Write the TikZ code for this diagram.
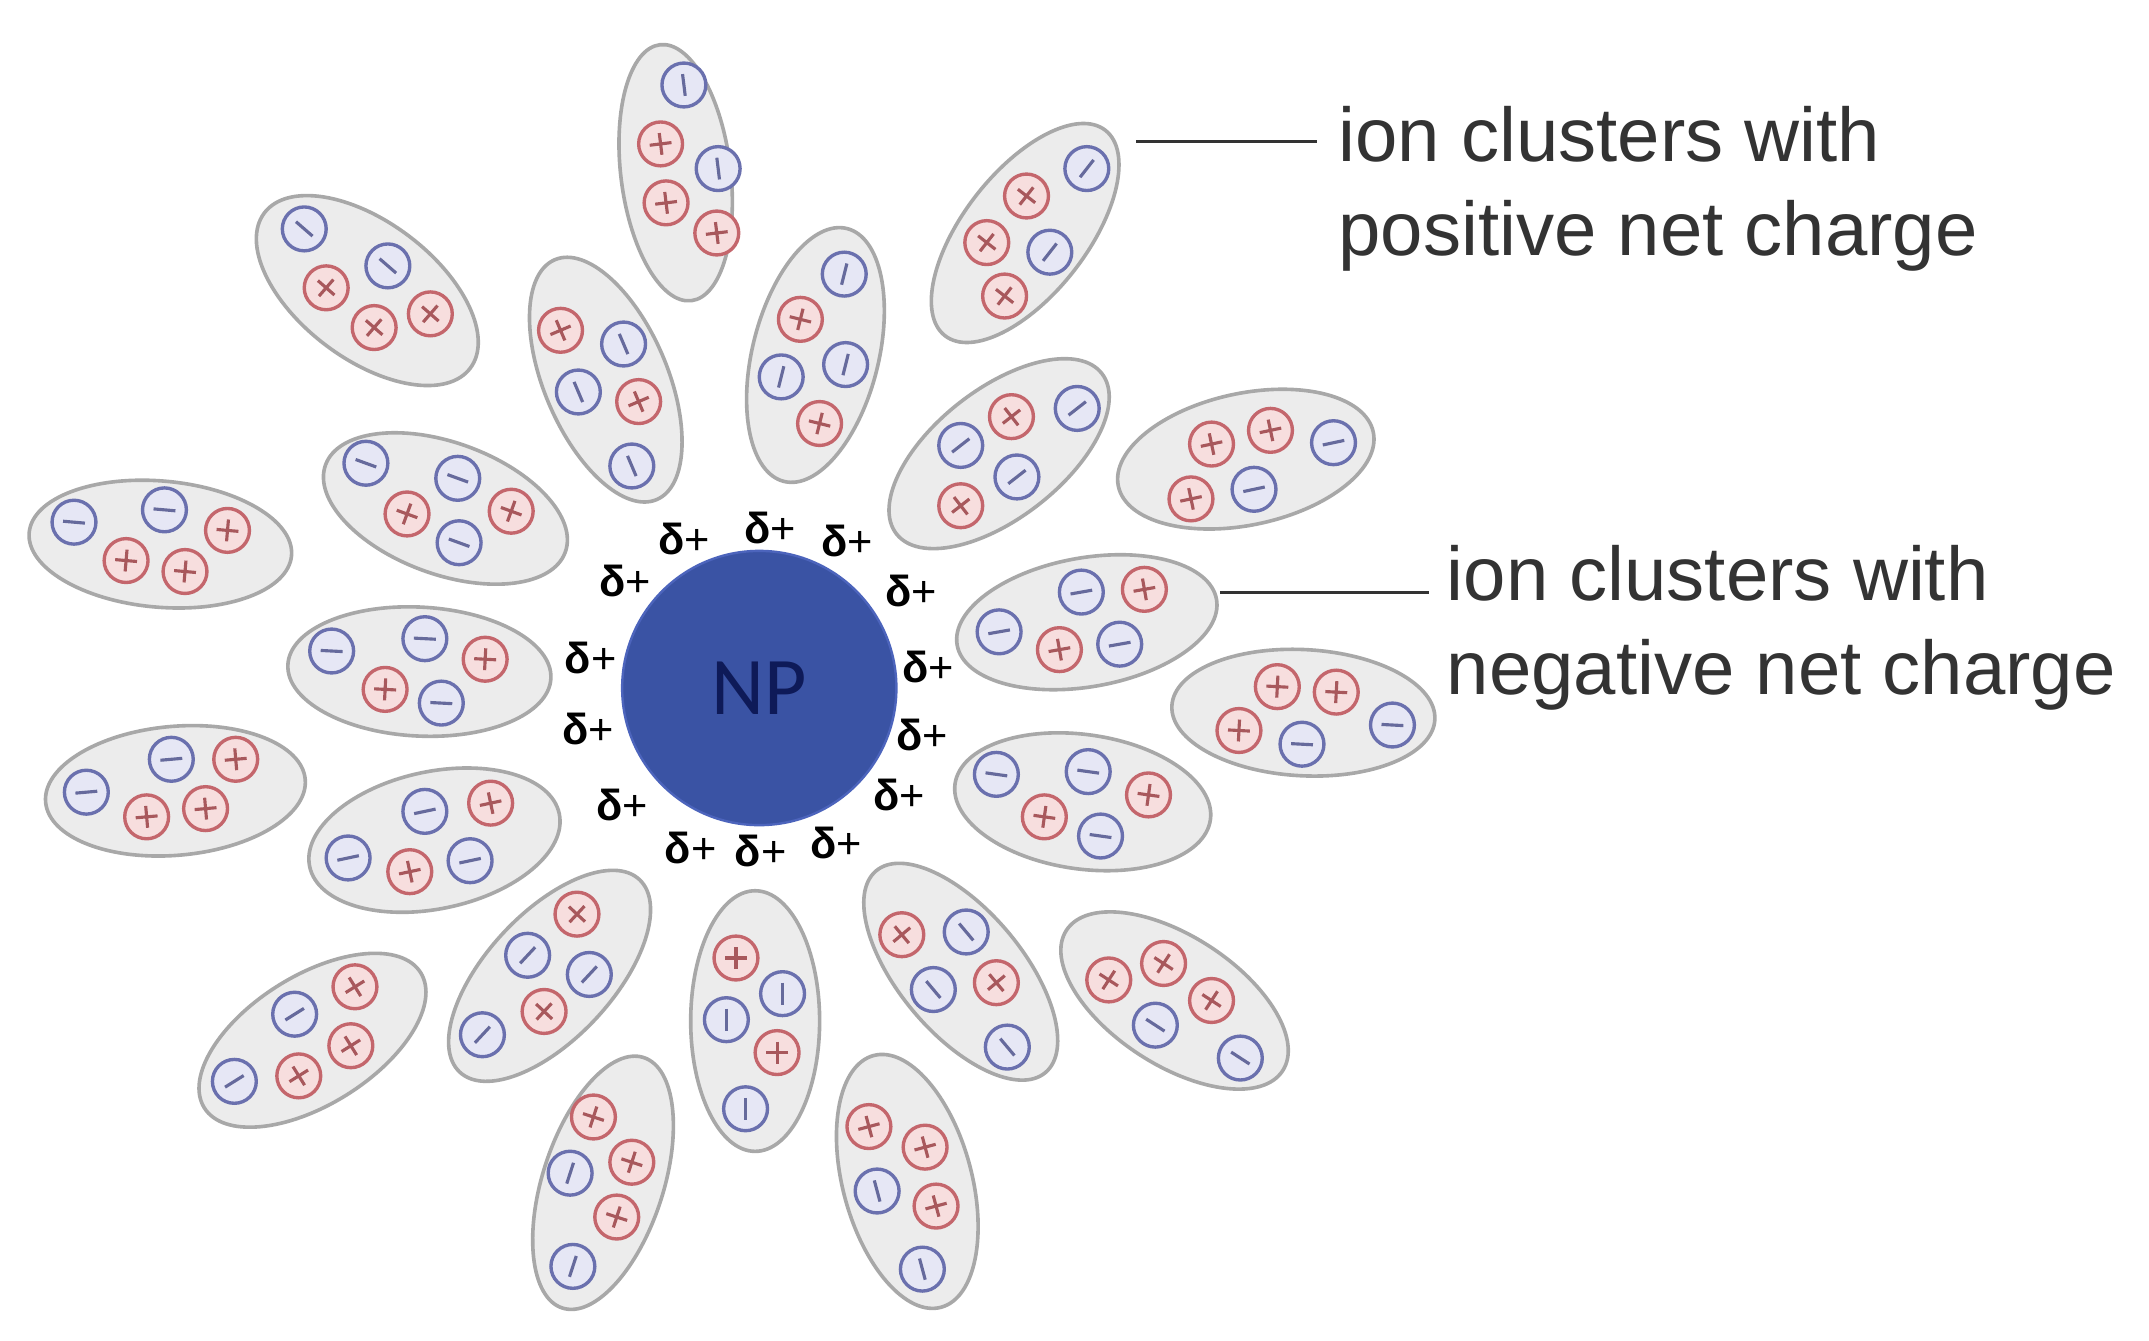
\documentclass[tikz,border=0pt]{standalone}
\usepackage{fontspec}
\setmainfont{Liberation Sans}
\newfontfamily\npfont{Carlito}
\usetikzlibrary{shapes.geometric,calc}
\definecolor{cfill}{HTML}{ECECEC}
\definecolor{cline}{HTML}{A8A8A8}
\definecolor{pfill}{HTML}{F7DEDE}
\definecolor{pline}{HTML}{C4666C}
\definecolor{psign}{HTML}{A8585C}
\definecolor{mfill}{HTML}{E6E7F5}
\definecolor{mline}{HTML}{6A70AE}
\definecolor{msign}{HTML}{666A9C}
\definecolor{npblue}{HTML}{3A53A4}
\definecolor{npedge}{HTML}{4C64BC}
\definecolor{nptext}{HTML}{0E1A58}
\definecolor{lbl}{HTML}{333333}
\newcounter{ionc}
\tikzset{
  clusterbox/.style={ellipse,draw=cline,fill=cfill,line width=0.75pt,inner sep=0pt},
  ionbase/.style={circle,inner sep=0pt,minimum size=0.32cm,line width=0.7pt},
  ionP/.style={ionbase,draw=pline,fill=pfill},
  ionM/.style={ionbase,draw=mline,fill=mfill},
  signP/.style={draw=psign,line width=0.65pt},
  signM/.style={draw=msign,line width=0.65pt},
  deltalabel/.style={inner sep=0pt,font=\fontsize{9}{10}\selectfont,text=black},
  notelabel/.style={inner ysep=0pt,align=left,text=lbl,
    font=\fontsize{15.8}{19.5}\selectfont},
  leader/.style={draw=lbl,line width=0.6pt}
}
\newcommand\cluster[6]{\node[clusterbox,minimum width=#4*0.02cm,minimum height=#5*0.02cm,rotate=#6] (#1) at (#2,#3) {};}
\newcommand\ionp[3]{\stepcounter{ionc}\node[ionP] (ion\theionc) at (#1,#2) {};
  \draw[signP] (#1,#2) ++(-#3:8) -- ++(180-#3:16) (#1,#2) ++(90-#3:8) -- ++(270-#3:16);}
\newcommand\ionm[3]{\stepcounter{ionc}\node[ionM] (ion\theionc) at (#1,#2) {};
  \draw[signM] (#1,#2) ++(-#3:8) -- ++(180-#3:16);}
\newcommand\delt[3]{\node[deltalabel] (#1) at (#2,#3) {\textbf{δ}+};}
\begin{document}
\begin{tikzpicture}[x=0.01cm,y=-0.01cm]
\useasboundingbox (0,0) rectangle (1568,978);
\fill[white] (0,0) rectangle (1568,978);
% clusters
\cluster{c1}{493}{126}{94}{40}{97}
\ionm{499}{62}{97}\ionp{482}{105}{97}\ionm{524}{123}{97}\ionp{486}{148}{97}\ionp{523}{170}{97}
\cluster{c2}{748}{170}{95}{45}{52}
\ionm{793}{123}{52}\ionp{749}{143}{52}\ionp{720}{177}{52}\ionm{766}{184}{52}\ionp{733}{216}{52}
\cluster{c3}{595}{259}{95}{46}{76}
\ionm{616}{200}{76}\ionp{584}{233}{76}\ionm{570}{275}{76}\ionm{617}{266}{76}\ionp{598}{309}{76}
\cluster{c4}{442}{277}{95}{45}{113}
\ionp{409}{241}{113}\ionm{455}{251}{113}\ionm{422}{286}{113}\ionp{466}{293}{113}\ionm{461}{340}{113}
\cluster{c5}{268}{212}{94}{50}{143}
\ionm{222}{167}{139}\ionm{283}{194}{139}\ionp{238}{210}{139}\ionp{314}{229}{139}\ionp{273}{239}{139}
\cluster{c6}{729}{331}{95}{47}{38}
\ionm{786}{298}{38}\ionp{738}{304}{38}\ionm{701}{325}{38}\ionm{742}{348}{38}\ionp{701}{369}{38}
\cluster{c7}{909}{335}{95}{48}{12}
\ionp{884}{324}{12}\ionp{927}{314}{12}\ionm{973}{323}{12}\ionp{869}{364}{12}\ionm{915}{357}{12}
\cluster{c8}{325}{371}{93}{48}{160}
\ionm{267}{338}{160}\ionm{334}{349}{160}\ionp{373}{373}{160}\ionp{297}{375}{160}\ionm{335}{396}{160}
\cluster{c9}{117}{397}{96}{46}{-5}
\ionm{54}{381}{-5}\ionm{120}{372}{-5}\ionp{166}{387}{-5}\ionp{92}{409}{-5}\ionp{135}{417}{-5}
\cluster{c10}{793}{454}{96}{47}{10}
\ionm{789}{432}{10}\ionp{835}{430}{10}\ionm{729}{461}{10}\ionp{773}{474}{10}\ionm{817}{470}{10}
\cluster{c11}{951}{520}{96}{46}{-3}
\ionp{932}{501}{-3}\ionp{975}{505}{-3}\ionm{1016}{529}{-3}\ionp{904}{533}{-3}\ionm{950}{543}{-3}
\cluster{c12}{306}{490}{96}{47}{-3}
\ionm{242}{475}{-3}\ionm{310}{466}{-3}\ionp{354}{481}{-3}\ionp{281}{503}{-3}\ionm{322}{513}{-3}
\cluster{c13}{128}{577}{95}{47}{5}
\ionm{63}{578}{5}\ionm{125}{554}{5}\ionp{172}{554}{5}\ionp{107}{596}{5}\ionp{150}{590}{5}
\cluster{c14}{790}{585}{94}{49}{-8}
\ionm{727}{565}{-8}\ionm{794}{563}{-8}\ionp{838}{580}{-8}\ionp{762}{596}{-8}\ionm{803}{610}{-8}
\cluster{c15}{317}{613}{93}{50}{12}
\ionm{310}{592}{12}\ionp{358}{586}{12}\ionm{254}{626}{12}\ionp{299}{636}{12}\ionm{343}{628}{12}
\cluster{c16}{228}{759}{93}{47}{32}
\ionp{259}{720}{32}\ionm{215}{740}{32}\ionp{256}{763}{32}\ionp{218}{785}{32}\ionm{171}{789}{32}
\cluster{c17}{401}{712}{96}{46}{47}
\ionp{421}{667}{47}\ionm{385}{697}{47}\ionm{430}{711}{47}\ionp{397}{738}{47}\ionm{352}{755}{47}
\cluster{c18}{551}{745}{95}{47}{90}
\ionp{537}{699}{90}\ionm{571}{725}{90}\ionm{530}{744}{90}\ionp{567}{768}{90}\ionm{544}{809}{90}
\cluster{c19}{701}{709}{96}{45}{130}
\ionp{658}{682}{130}\ionm{705}{680}{130}\ionm{681}{722}{130}\ionp{727}{717}{130}\ionm{735}{764}{130}
\cluster{c20}{857}{730}{94}{47}{147}
\ionp{809}{715}{147}\ionp{849}{703}{147}\ionp{884}{730}{147}\ionm{843}{748}{147}\ionm{905}{772}{147}
\cluster{c21}{440}{863}{96}{44}{72}
\ionp{433}{815}{72}\ionp{461}{848}{72}\ionm{416}{856}{72}\ionp{450}{888}{72}\ionm{418}{924}{72}
\cluster{c22}{662}{862}{95}{47}{105}
\ionp{634}{822}{105}\ionp{675}{837}{105}\ionm{640}{869}{105}\ionp{683}{880}{105}\ionm{673}{926}{105}
% nanoparticle
\node[circle,draw=npedge,fill=npblue,line width=0.5pt,minimum size=2.0cm,inner sep=0pt,text=nptext,font=\npfont\fontsize{17}{20}\selectfont] (np) at (554,502) {NP};
% partial charges
\delt{d1}{499}{393}\delt{d2}{562}{385}\delt{d3}{618}{395}\delt{d4}{456}{424}
\delt{d5}{665}{431}\delt{d6}{431}{480}\delt{d7}{677}{487}\delt{d8}{429}{532}
\delt{d9}{673}{536}\delt{d10}{454}{587}\delt{d11}{656}{580}\delt{d12}{504}{619}
\delt{d13}{555}{621}\delt{d14}{610}{615}
% labels
\node[notelabel,inner xsep=0.15cm,anchor=west] (posnote) at (961,138) {ion clusters with\\positive net charge};
\node[notelabel,inner xsep=0.12cm,anchor=west] (negnote) at (1043,458) {ion clusters with\\negative net charge};
\coordinate (posend) at (829,103);
\coordinate (negend) at (890,432);
\draw[leader] (posend) -- (posend -| posnote.west);
\draw[leader] (negend) -- (negend -| negnote.west);
\end{tikzpicture}
\end{document}
